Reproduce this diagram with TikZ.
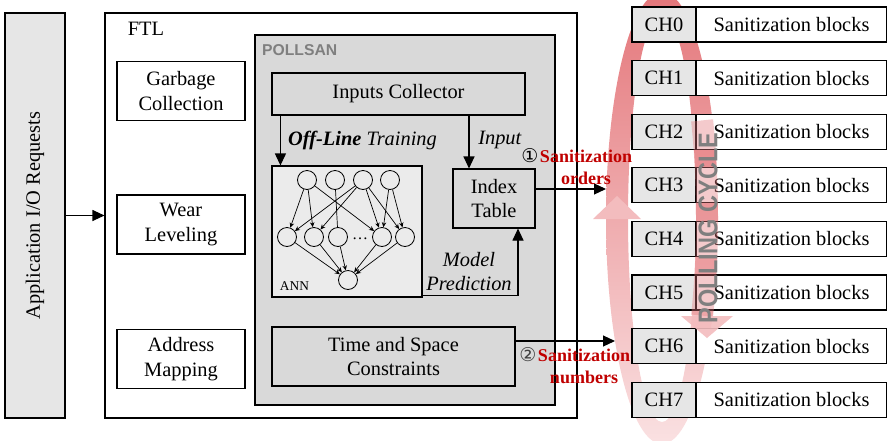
\documentclass[tikz,border=0pt]{standalone}
\usepackage{fontspec}
\setmainfont{Liberation Serif}
\setsansfont{Liberation Sans}
\newfontfamily\symfont{DejaVu Sans}
\usetikzlibrary{arrows.meta,calc}
\definecolor{boxgray}{HTML}{D9D9D9}
\definecolor{chgray}{HTML}{E6E6E6}
\definecolor{anngray}{HTML}{EBEBEB}
\definecolor{darkred}{HTML}{C00000}
\definecolor{ringtop}{RGB}{228,118,122}
\definecolor{ringbot}{RGB}{250,225,226}
\definecolor{pinkhead}{RGB}{243,188,190}
\definecolor{polltext}{HTML}{7F7F7F}
\newcommand\fmain{\fontsize{20.4}{24.5}\selectfont}
\begin{document}
\begin{tikzpicture}[x=1pt,y=-1pt,
  box/.style={draw, line width=1.1pt, inner sep=0pt, align=center, font=\fmain},
  arr/.style={-{Triangle[length=12pt,width=11pt]}, line width=1.1pt},
  nn/.style={draw, circle, minimum size=19pt, inner sep=0pt, line width=0.8pt},
  nnarr/.style={-{Stealth[length=5pt,width=4.5pt]}, line width=0.7pt},
  chbox/.style={box, fill=chgray, minimum width=64pt, minimum height=35pt},
  sbbox/.style={box, fill=white, minimum width=191pt, minimum height=35pt},
  redlab/.style={text=darkred, font=\fontsize{18}{20}\selectfont\bfseries, inner sep=0pt},
  lab/.style={font=\fmain, inner sep=0pt},
  circnum/.style={font=\symfont\fontsize{19}{19}\selectfont, inner sep=0pt},
]
\useasboundingbox (0,0) rectangle (887,440);

% polling ring (behind the channel boxes)
\shade[top color=ringtop, bottom color=ringbot, even odd rule]
  (662,218) ellipse [x radius=56, y radius=226]
  (662,218) ellipse [x radius=34, y radius=204];
\fill[pinkhead] (593,219) -- (641,219) -- (617,196) -- cycle;

% application box and FTL
\node[box, fill=chgray, minimum width=60pt, minimum height=405pt] (app) at (35,215.5) {};
\node[rotate=90, lab] (apptxt) at (app) {Application I/O Requests};
\node[box, fill=white, minimum width=472pt, minimum height=405pt] (ftl) at (341,215.5) {};
\node[lab] (ftllab) at (146,29) {FTL};
\draw[arr] (app.east) -- (ftl.west);

\node[box, fill=white, minimum width=128pt, minimum height=59pt] (gc) at (181,91) {Garbage\\Collection};
\node[box, fill=white, minimum width=128pt, minimum height=59pt] (wl) at (181,224.5) {Wear\\Leveling};
\node[box, fill=white, minimum width=128pt, minimum height=59pt] (am) at (181,359) {Address\\Mapping};

% POLLSAN
\node[box, fill=boxgray, minimum width=300pt, minimum height=370pt] (pollsan) at (405,220) {};
\node[anchor=west, inner sep=0pt, text=polltext, font=\sffamily\bfseries\fontsize{15.7}{16}\selectfont] (pollab) at (262,50) {POLLSAN};

\node[box, fill=boxgray, minimum width=253pt, minimum height=42pt] (ic) at (398.5,94) {Inputs Collector};
\node[box, fill=anngray, minimum width=150pt, minimum height=131pt] (ann) at (347,231.5) {};
\node[box, fill=boxgray, minimum width=82pt, minimum height=59pt] (idx) at (494,198.5) {Index\\Table};
\node[box, fill=boxgray, minimum width=243pt, minimum height=59pt] (tsc) at (393.5,356.5) {Time and Space\\Constraints};

\coordinate (xin) at (469,0);
\draw[arr] ([xshift=9pt]ic.south west) -- ([xshift=9pt]ann.north west);
\draw[arr] (ic.south -| xin) -- (idx.north -| xin);
\draw[arr] ([yshift=2pt]ann.south east) -| ([xshift=24pt]idx.south);

\node[anchor=west, lab] (offl) at (288,140) {\textbf{\textit{Off-Line}} \textit{Training}};
\node[lab] (inlab) at (500,140) {\textit{Input}};
\node[lab] (model) at (469,260) {\textit{Model}};
\node[lab] (pred) at (469,284) {\textit{Prediction}};

% ANN
\foreach \i/\x in {1/307,2/335,3/363,4/390} \node[nn] (t\i) at (\x,180) {};
\foreach \i/\x in {1/287,2/314,3/338,4/382,5/405} \node[nn] (m\i) at (\x,237) {};
\node[nn] (bo) at (348,280) {};
\node[font=\fontsize{16}{16}\selectfont, inner sep=0pt] (dots) at (360,239) {\ldots};
\foreach \a/\b in {t1/m1,t1/m2,t1/m4,t3/m1,t3/m2,t3/m4,t3/m5,t4/m4,t4/m5}
  \draw[nnarr] (\a) -- (\b);
\draw[line width=0.7pt] (t2) -- (m3);
\foreach \m in {m1,m2,m3,m4,m5} \draw[nnarr] (\m) -- (bo);
\node[font=\fontsize{13.4}{14}\selectfont, inner sep=0pt] (annlab) at (294.5,286) {ANN};

% channels
\foreach \i in {0,...,7} {
  \node[chbox] (ch\i) at (664,{24.5+53.6*\i}) {CH\i};
  \node[sbbox] (sb\i) at (791.5,{24.5+53.6*\i}) {Sanitization blocks};
}

% right part of the ring over the boxes
\draw[line width=22pt, color=ringtop, opacity=0.38] (702.1,120.4) arc[start angle=-27, end angle=27, x radius=45, y radius=215];
\fill[pinkhead, opacity=0.9] (681,316) -- (733,316) -- (707,338) -- cycle;
\node[rotate=90, text=polltext, inner sep=0pt] (poll) at (708,228)
  {\scalebox{0.87}[1]{\sffamily\bfseries\fontsize{27}{27}\selectfont POLLING CYCLE}};

% sanitization arrows
\coordinate (ordend) at (606,189);
\coordinate (numend) at (615,341);
\draw[arr] ([yshift=9.5pt]idx.east) -- (ordend);
\draw[arr] ([yshift=15.5pt]tsc.east) -- (numend);
\node[circnum] (c1) at (530,156) {①};
\node[redlab] (s1) at (586,156) {Sanitization};
\node[redlab] (o1) at (586,178) {orders};
\node[circnum, text=black!75] (c2) at (528,355) {②};
\node[redlab] (s2) at (584,355) {Sanitization};
\node[redlab] (n2) at (584,377) {numbers};
\end{tikzpicture}
\end{document}
